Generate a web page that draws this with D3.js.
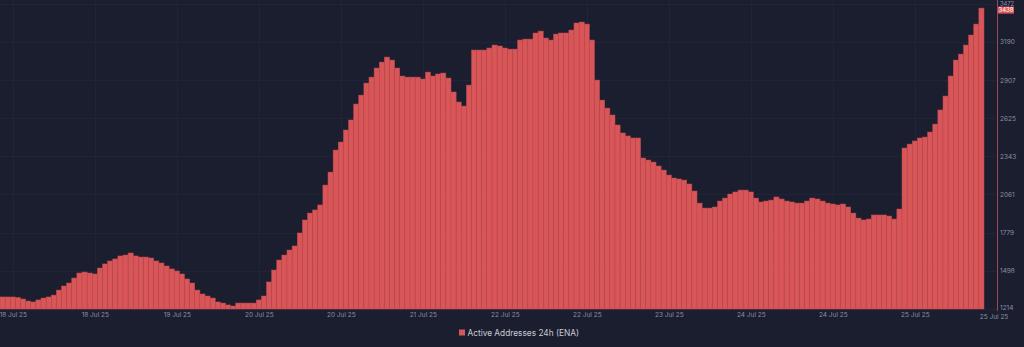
<!DOCTYPE html>
<html>
<head>
<meta charset="utf-8">
<script src="https://cdn.jsdelivr.net/npm/d3@7"></script>
<style>
  html, body { margin: 0; padding: 0; background: #1b1e2f; }
  svg { display: block; }
</style>
</head>
<body>
<svg id="chart" width="1024" height="347"></svg>
<script>
// ---- data ----
const seriesName = "Active Addresses 24h (ENA)";
const startTime = Date.UTC(2025, 6, 17, 22, 0); // first hourly bar
const values = [
  1303,1303,1303,1299,1288,1273,1266,1281,1295,1303,1317,1354,1384,1406,1443,1480,
  1487,1480,1473,1517,1547,1569,1584,1606,1613,1628,1606,1598,1598,1591,1569,1554,
  1532,1510,1495,1473,1436,1406,1354,1325,1310,1295,1266,1258,1244,1236,1258,1258,
  1258,1258,1281,1310,1414,1502,1576,1613,1650,1680,1776,1872,1923,1946,1983,2130,
  2226,2389,2448,2537,2611,2729,2795,2884,2928,2995,3039,3076,3054,2995,2936,2928,
  2928,2928,2914,2965,2936,2951,2958,2921,2818,2744,2714,2869,3128,3128,3128,3143,
  3165,3158,3143,3135,3135,3202,3209,3209,3254,3268,3217,3202,3246,3254,3254,3276,
  3328,3335,3320,3202,2906,2758,2699,2648,2574,2515,2493,2478,2478,2330,2315,2300,
  2271,2241,2204,2182,2175,2167,2138,2086,1997,1960,1960,1968,2012,2034,2064,2079,
  2093,2093,2079,2034,2005,2012,2019,2042,2027,2012,2005,1997,1997,2012,2034,2027,
  2012,1997,1990,1983,1990,1968,1923,1886,1872,1879,1909,1909,1909,1901,1879,1953,
  2404,2433,2456,2478,2485,2522,2581,2685,2788,2936,3054,3098,3165,3239,3320,3438
];
const yTickValues = [1214, 1498, 1779, 2061, 2343, 2625, 2907, 3190, 3472];
const xTickTimes = [
  Date.UTC(2025,6,18,0), Date.UTC(2025,6,18,16), Date.UTC(2025,6,19,8),
  Date.UTC(2025,6,20,0), Date.UTC(2025,6,20,16), Date.UTC(2025,6,21,8),
  Date.UTC(2025,6,22,0), Date.UTC(2025,6,22,16), Date.UTC(2025,6,23,8),
  Date.UTC(2025,6,24,0), Date.UTC(2025,6,24,16), Date.UTC(2025,6,25,8)
];
const HOUR = 3600 * 1000;
const data = values.map((v, i) => ({ t: new Date(startTime + i * HOUR), v }));

// ---- layout ----
const svg = d3.select("#chart");
const plotLeft = 0, plotRight = 984, plotTop = 3.5, plotBottom = 309;
const axisX = 997;
const bg = "#1b1e2f";
const barColor = "#d85658";
const labelColor = "#8b8fa3";
const fontFam = "Inter, 'Noto Sans', sans-serif";

svg.append("rect").attr("width", 1024).attr("height", 347).attr("fill", bg);

const x = d3.scaleTime()
  .domain([new Date(startTime - HOUR / 2), new Date(startTime + (values.length - 0.5) * HOUR)])
  .range([plotLeft, plotRight]);
const y = d3.scaleLinear()
  .domain([yTickValues[0], yTickValues[yTickValues.length - 1]])
  .range([plotBottom, plotTop]);

const fmt = d3.utcFormat("%d Jul %y");

// grid
const grid = svg.append("g");
grid.selectAll("line.h").data(yTickValues).join("line")
  .attr("x1", 0).attr("x2", axisX)
  .attr("y1", d => Math.round(y(d)) + 0.5).attr("y2", d => Math.round(y(d)) + 0.5)
  .attr("stroke", "#212439").attr("stroke-width", 1);
grid.selectAll("line.v").data(xTickTimes).join("line")
  .attr("x1", d => Math.round(x(new Date(d))) + 0.5).attr("x2", d => Math.round(x(new Date(d))) + 0.5)
  .attr("y1", 0).attr("y2", plotBottom)
  .attr("stroke", "#212439").attr("stroke-width", 1);

// bars
const step = x(new Date(startTime + HOUR)) - x(new Date(startTime));
svg.append("g").selectAll("rect").data(data).join("rect")
  .attr("x", d => x(d.t) - step / 2)
  .attr("width", step)
  .attr("y", d => y(d.v))
  .attr("height", d => plotBottom - y(d.v))
  .attr("fill", barColor)
  .attr("stroke", "#bd474e")
  .attr("stroke-width", 0.5);

// right axis
const yAxis = d3.axisRight(y).tickValues(yTickValues).tickSize(0).tickPadding(3)
  .tickFormat(d3.format("d"));
const gy = svg.append("g").attr("transform", `translate(${axisX},0)`).call(yAxis);
gy.select(".domain").remove();
gy.selectAll("text").attr("fill", labelColor).attr("font-size", 6.5).attr("font-family", fontFam);
gy.selectAll(".tick").filter(d => d === yTickValues[yTickValues.length - 1])
  .select("text").attr("font-size", 5.8).attr("dy", "0.42em");
gy.selectAll(".tick").filter(d => d === yTickValues[0])
  .select("text").attr("dy", "0.05em");
svg.append("line").attr("x1", axisX + 0.5).attr("x2", axisX + 0.5)
  .attr("y1", 0).attr("y2", plotBottom + 2)
  .attr("stroke", "#9a4756").attr("stroke-width", 1);

// bottom axis
const xAxis = d3.axisBottom(x).tickValues(xTickTimes.map(t => new Date(t)))
  .tickSize(0).tickPadding(3).tickFormat(fmt);
const gx = svg.append("g").attr("transform", `translate(0,${plotBottom})`).call(xAxis);
gx.select(".domain").remove();
gx.selectAll("text").attr("fill", labelColor).attr("font-size", 6.5).attr("font-family", fontFam);

// last date label at axis
const last = data[data.length - 1];
svg.append("text").attr("x", axisX - 3).attr("y", plotBottom + 9.5)
  .attr("text-anchor", "middle").attr("fill", labelColor)
  .attr("font-size", 6.5).attr("font-family", fontFam).text(fmt(last.t));

// current value badge
const by = y(last.v);
svg.append("rect").attr("x", axisX + 1).attr("y", by - 1.5).attr("width", 16).attr("height", 7)
  .attr("fill", "#e0585c");
svg.append("text").attr("x", axisX + 9).attr("y", by + 4.1).attr("text-anchor", "middle")
  .attr("fill", "#ffffff").attr("font-size", 6).attr("font-family", fontFam).text(last.v);

// legend
const lg = svg.append("g").attr("transform", "translate(0,333)");
lg.append("rect").attr("x", 459).attr("y", -3.5).attr("width", 6).attr("height", 6).attr("fill", barColor);
lg.append("text").attr("x", 467.5).attr("y", 3).attr("fill", "#c9cbd6")
  .attr("font-size", 8.3).attr("font-family", fontFam).text(seriesName);
</script>
</body>
</html>
